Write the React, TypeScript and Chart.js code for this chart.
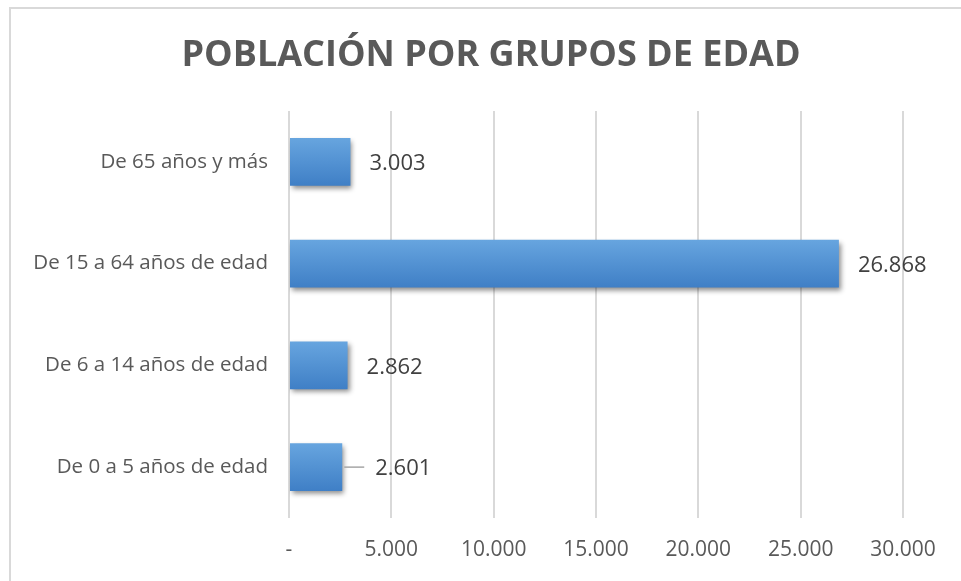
import React, { useEffect, useRef } from "react";
import { Chart, registerables } from "chart.js";

Chart.register(...registerables);

const title = "POBLACIÓN POR GRUPOS DE EDAD";
const categories = [
  "De 65 años y más",
  "De 15 a 64 años de edad",
  "De 6 a 14 años de edad",
  "De 0 a 5 años de edad",
];
const values = [3003, 26868, 2862, 2601];
const axisMax = 30000;
const axisStep = 5000;

const FONT = "'Open Sans', 'Noto Sans', sans-serif";
const fmt = (v: number) =>
  v === 0 ? "-" : Math.round(v).toString().replace(/\B(?=(\d{3})+(?!\d))/g, ".");

export default function App() {
  const ref = useRef<HTMLCanvasElement | null>(null);
  useEffect(() => {
    document.body.style.margin = "0";
    const canvas = ref.current!;
    const framePlugin = {
      id: "frame",
      beforeDraw(chart: any) {
        const c = chart.ctx;
        c.save();
        c.fillStyle = "#ffffff";
        c.fillRect(0, 0, chart.width, chart.height);
        c.strokeStyle = "#d9d9d9";
        c.lineWidth = 2;
        c.strokeRect(10, 8, chart.width + 20, chart.height + 20);
        c.font = `bold 36px ${FONT}`;
        c.fillStyle = "#595959";
        c.textAlign = "center";
        c.textBaseline = "middle";
        c.fillText(title, 491, 56);
        c.restore();
      },
    };
    const barStyle = {
      id: "barStyle",
      beforeDatasetsDraw(chart: any) {
        const c = chart.ctx;
        const meta = chart.getDatasetMeta(0);
        meta.data.forEach((el: any) => {
          const top = el.y - el.height / 2;
          const g = c.createLinearGradient(0, top, 0, top + el.height);
          g.addColorStop(0, "#67a5df");
          g.addColorStop(1, "#3f7fc6");
          el.options.backgroundColor = g;
        });
        c.save();
        c.shadowColor = "rgba(0,0,0,0.45)";
        c.shadowBlur = 5;
        c.shadowOffsetX = 2;
        c.shadowOffsetY = 3;
      },
      afterDatasetsDraw(chart: any) {
        const c = chart.ctx;
        c.restore();
        const meta = chart.getDatasetMeta(0);
        c.save();
        c.font = `22px ${FONT}`;
        c.fillStyle = "#404040";
        c.textBaseline = "middle";
        meta.data.forEach((el: any, i: number) => {
          const v = chart.data.datasets[0].data[i];
          let gap = 19;
          if (i === categories.length - 1) {
            gap = 33;
            c.strokeStyle = "#a6a6a6";
            c.lineWidth = 1.5;
            c.beginPath();
            c.moveTo(el.x + 2, el.y);
            c.lineTo(el.x + 22, el.y);
            c.stroke();
          }
          c.fillText(fmt(v), el.x + gap, el.y + 2);
        });
        c.restore();
      },
    };
    const chart = new Chart(canvas, {
      type: "bar",
      data: {
        labels: categories,
        datasets: [
          {
            data: values,
            backgroundColor: () => "#5b9bd5",
            borderWidth: 0,
            barPercentage: 0.47,
            categoryPercentage: 1,
          },
        ],
      },
      options: {
        indexAxis: "y",
        animation: false,
        responsive: false,
        layout: { padding: { left: 20, right: 58, top: 111, bottom: 0 } },
        plugins: {
          legend: { display: false },
          tooltip: { enabled: false },
          title: { display: false },
        },
        scales: {
          x: {
            min: 0,
            max: axisMax,
            ticks: {
              stepSize: axisStep,
              color: "#595959",
              font: { family: FONT, size: 21 },
              padding: 19,
              callback: (v: any) => fmt(Number(v)),
            },
            grid: { color: "#d9d9d9", lineWidth: 2, drawTicks: false },
            border: { display: false },
            afterFit: (s: any) => {
              s.height = 63;
            },
          },
          y: {
            ticks: {
              color: "#595959",
              font: { family: FONT, size: 20.5 },
              padding: 21,
            },
            grid: { display: false, drawTicks: false },
            border: { display: false },
            afterFit: (s: any) => {
              s.width = 269;
            },
          },
        },
      },
      plugins: [framePlugin, barStyle],
    });
    return () => chart.destroy();
  }, []);
  return <canvas ref={ref} width={961} height={581} style={{ display: "block" }} />;
}
